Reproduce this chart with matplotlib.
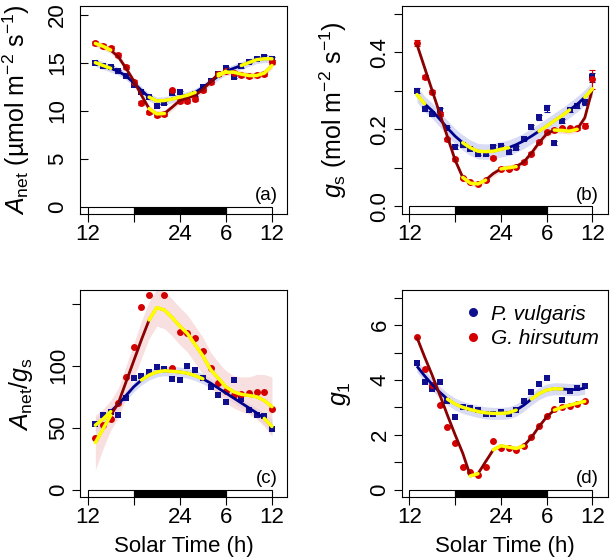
import numpy as np
import matplotlib
matplotlib.use("Agg")
import matplotlib.pyplot as plt
from matplotlib.patches import Rectangle
from matplotlib.lines import Line2D

plt.rcParams['font.family'] = ['Liberation Sans', 'DejaVu Sans']
plt.rcParams['mathtext.fontset'] = 'custom'
plt.rcParams['mathtext.rm'] = 'Liberation Sans'
plt.rcParams['mathtext.it'] = 'Liberation Sans:italic'
plt.rcParams['mathtext.bf'] = 'Liberation Sans:bold'

nan = np.nan
# ---------------- data ----------------
hours = np.arange(13, 37)  # solar time (h), 25..36 = 1..12 next day

# (a) Anet
a_pv = [15.0, 14.6, 14.5, 14.1, 13.6, 12.7, 11.9, 11.4, 10.5, 10.8, 11.8, 11.9,
        11.4, 11.7, 12.5, 13.1, 13.8, 14.4, 13.5, 14.6, 15.1, 15.4, 15.6, 15.4]
a_gh = [17.0, 16.7, 16.5, 15.8, 14.5, 13.0, 10.8, 9.8, 9.5, 9.65, 12.1, 11.0,
        11.0, 11.2, 12.1, 13.0, 13.8, 14.1, 13.9, 13.7, 13.6, 13.7, 13.8, 15.1]
a_pv_err = [0.15] * 24
a_gh_err = [0.2] * 24
a_pv_fit = [15.0, 14.7, 14.4, 14.1, 13.6, 12.9, 12.1, 11.4, 11.0, 11.05, 11.2, 11.4,
            11.6, 11.9, 12.4, 13.0, 13.6, 14.1, 14.4, 14.7, 15.0, 15.3, 15.4, 15.4]
a_gh_fit = [17.0, 16.7, 16.3, 15.6, 14.4, 13.1, 11.6, 10.2, 9.65, 9.7, 10.35, 11.05,
            11.3, 11.6, 12.2, 13.0, 13.8, 14.0, 14.0, 13.8, 13.65, 13.65, 13.9, 14.7]
a_pv_band = [0.4] * 24
a_gh_band = [0.35] * 24
a_pv_flat = [(13, 15), (20, 26), (29, 30), (32, 36)]
a_gh_flat = [(13, 15), (20, 22), (29, 36)]

# (b) gs
b_pv = [0.300, 0.252, 0.239, 0.250, 0.202, 0.154, 0.158, 0.150, 0.137, 0.137, 0.154, 0.156,
        0.141, 0.152, 0.176, 0.205, 0.231, 0.254, 0.164, 0.222, 0.250, 0.261, 0.270, 0.335]
b_gh = [0.424, 0.335, 0.296, 0.239, 0.174, 0.122, 0.074, 0.063, 0.057, 0.068, 0.126, 0.098,
        0.098, 0.103, 0.115, 0.137, 0.168, 0.192, 0.198, 0.202, 0.202, 0.202, 0.209, 0.330]
b_pv_err = [0.006, 0.005, 0.005, 0.005, 0.004, 0.004, 0.004, 0.004, 0.004, 0.004, 0.004, 0.004,
            0.004, 0.004, 0.005, 0.005, 0.006, 0.010, 0.005, 0.005, 0.005, 0.006, 0.006, 0.012]
b_gh_err = [0.007, 0.005, 0.005, 0.005, 0.004, 0.004, 0.003, 0.003, 0.003, 0.003, 0.004, 0.003,
            0.003, 0.003, 0.004, 0.004, 0.004, 0.004, 0.004, 0.004, 0.004, 0.004, 0.007, 0.025]
b_pv_fit = [0.290, 0.266, 0.248, 0.226, 0.203, 0.182, 0.165, 0.152, 0.143, 0.142, 0.143, 0.148,
            0.152, 0.160, 0.170, 0.182, 0.195, 0.208, 0.222, 0.235, 0.250, 0.265, 0.283, 0.305]
b_gh_fit = [0.420, 0.360, 0.300, 0.240, 0.180, 0.120, 0.075, 0.060, 0.058, 0.068, 0.085, 0.097,
            0.100, 0.103, 0.115, 0.138, 0.165, 0.188, 0.198, 0.197, 0.195, 0.200, 0.230, 0.305]
b_pv_band = [0.02] * 24
b_gh_band = [0.008] * 24
b_pv_flat = [(13, 14), (19, 25), (29, 33), (35, 36)]
b_gh_flat = [(19, 22), (24, 26), (31, 34)]

# (c) Anet/gs
c_pv = [53.2, 60.0, 62.7, 60.0, 73.8, 90.5, 91.4, 95.2, 98.7, 97.3, 89.2, 88.4,
        99.5, 96.5, 90.0, 83.0, 76.8, 71.1, 88.4, 73.0, 64.3, 60.3, 59.5, 49.2]
c_gh = [41.4, 52.2, 57.3, 70.3, 90.6, 114.9, 147.3, 156.8, nan, 156.8, 98.2, 127.1,
        126.2, 122.2, 112.2, 98.2, 86.5, 79.8, 76.3, 77.1, 78.4, 79.2, 79.2, 65.4]
c_pv_fit = [52, 57, 63, 69, 76, 83, 88.5, 92.5, 95, 96, 95.5, 95,
            94, 92, 89.5, 86, 82, 78, 74, 70, 66, 62, 57.5, 51]
c_gh_fit = [38, 49, 60, 70, 87, 104, 121, 137, 147, 145, 139, 132,
            126, 117, 108, 97, 90, 83, 79, 77, 76, 75, 72, 67]
c_pv_band = [6, 5, 4, 4, 4, 4, 4, 4, 4, 4, 4, 4, 4, 4, 4, 4, 4, 4, 4, 4, 4, 4, 5, 6]
c_gh_band = [22, 16, 12, 12, 13, 14, 15, 15, 15, 15, 15, 15,
             15, 15, 15, 14, 13, 13, 13, 14, 15, 18, 21, 24]
c_pv_flat = [(13, 15), (19, 27), (35, 36)]
c_gh_flat = [(13, 15), (20, 36)]

# (d) g1
d_pv = [4.63, 3.93, 3.68, 3.92, 3.25, 2.65, 3.01, 2.97, 2.89, 2.77, 2.77, 2.83,
        2.77, 2.89, 3.22, 3.55, 3.86, 4.07, nan, 3.28, 3.61, 3.70, 3.77, nan]
d_gh = [5.55, 4.39, 3.83, 3.10, 2.30, 1.69, 0.83, 0.65, 0.53, 0.81, 1.79, 1.51,
        1.51, 1.45, 1.59, 1.91, 2.33, 2.67, 2.94, 3.01, 3.06, 3.13, 3.22, nan]
d_pv_fit = [4.5, 4.15, 3.83, 3.55, 3.3, 3.12, 3.0, 2.92, 2.85, 2.8, 2.78, 2.78,
            2.8, 2.9, 3.08, 3.3, 3.5, 3.63, 3.68, 3.67, 3.65, 3.65, 3.7, nan]
d_gh_fit = [5.55, 4.84, 4.17, 3.45, 2.71, 2.0, 1.33, 0.5, 0.58, 1.02, 1.45, 1.6,
            1.55, 1.5, 1.6, 1.9, 2.3, 2.65, 2.9, 3.0, 3.08, 3.15, 3.22, nan]
d_pv_band = [0.22] * 24
d_gh_band = [0.0] * 24
d_pv_flat = [(17, 26), (28, 32)]
d_gh_flat = [(20, 21), (23, 27), (31, 35)]

# light / dark periods
light_periods = [(12, 18), (30, 36)]
dark_periods = [(18, 30)]

xticks = [12, 18, 24, 30, 36]
xticklabels = ['12', '', '24', '6', '12']
species = ['P. vulgaris', 'G. hirsutum']

# ---------------- style ----------------
C_PV = '#10108f'
C_GH = '#d40000'
L_PV = '#00008b'
L_GH = '#8b0000'
YEL = '#ffff00'
BAND_PV = '#c9cdf2'
BAND_GH = '#f7d3d3'

fig = plt.figure(figsize=(6.15, 5.59), dpi=100)
W, H = 615.0, 559.0

def mk(left, top, right, bottom):
    return fig.add_axes([left / W, (H - bottom) / H, (right - left) / W, (bottom - top) / H])

ax_a = mk(80, 6, 287.3, 214)
ax_b = mk(401.7, 6, 607.7, 214)
ax_c = mk(80, 290, 287.3, 497.3)
ax_d = mk(401.7, 290, 607.7, 497.3)


def panel(ax, pv, gh, pv_fit, gh_fit, pv_band, gh_band, pv_flat, gh_flat,
          ylim, yticks, yticklabels, ylabel, ylabel_x, letter, pv_err=None, gh_err=None,
          inward=False):
    pv = np.array(pv, float); gh = np.array(gh, float)
    pvf = np.array(pv_fit, float); ghf = np.array(gh_fit, float)
    pvb = np.array(pv_band, float); ghb = np.array(gh_band, float)
    ax.set_xlim(11, 38)
    ax.set_ylim(*ylim)
    # bands
    ax.fill_between(hours, pvf - pvb, pvf + pvb, color=BAND_PV, alpha=0.7, lw=0, zorder=1)
    if np.nanmax(ghb) > 0:
        ax.fill_between(hours, ghf - ghb, ghf + ghb, color=BAND_GH, alpha=0.7, lw=0, zorder=1)
    # error bars
    if pv_err is not None:
        ax.errorbar(hours, pv, yerr=pv_err, fmt='none', ecolor=C_PV, elinewidth=0.8,
                    capsize=2, capthick=0.8, zorder=2)
    if gh_err is not None:
        ax.errorbar(hours, gh, yerr=gh_err, fmt='none', ecolor=C_GH, elinewidth=0.8,
                    capsize=2, capthick=0.8, zorder=2)
    # points
    ax.plot(hours, pv, 's', color=C_PV, ms=4.6, mew=0, zorder=3, clip_on=True)
    ax.plot(hours, gh, 'o', color=C_GH, ms=5.0, mew=0, zorder=3, clip_on=True)
    # fits
    ax.plot(hours, pvf, '-', color=L_PV, lw=2.0, zorder=4, solid_capstyle='butt')
    ax.plot(hours, ghf, '-', color=L_GH, lw=2.0, zorder=4, solid_capstyle='butt')
    for fit, flat in ((pvf, pv_flat), (ghf, gh_flat)):
        for s, e in flat:
            m = (hours >= s) & (hours <= e)
            ax.plot(hours[m], fit[m], '-', color=YEL, lw=2.5, zorder=5,
                    solid_capstyle='round')
    # light/dark bar
    y0 = ylim[0]
    for s, e in light_periods:
        ax.add_patch(Rectangle((s, y0), e - s, 0 - y0, facecolor='white',
                               edgecolor='black', lw=0.8, zorder=6))
    for s, e in dark_periods:
        ax.add_patch(Rectangle((s, y0), e - s, 0 - y0, facecolor='black',
                               edgecolor='black', lw=0.8, zorder=6))
    ax.set_xticks(xticks)
    ax.set_xticklabels(xticklabels, fontsize=16)
    ax.set_yticks(yticks)
    ax.set_yticklabels(yticklabels, fontsize=16, rotation=90, va='center')
    ax.tick_params(axis='x', length=5.5, width=0.8, pad=1.5)
    ax.tick_params(axis='y', length=5.5, width=0.8, pad=8.5 if inward else 2.5,
                   direction='in' if inward else 'out')
    ax.set_ylabel(ylabel, fontsize=18, va='center')
    ax.yaxis.set_label_coords(ylabel_x, 0.5)
    for sp in ax.spines.values():
        sp.set_linewidth(0.8)
    ax.text(0.955, 0.05, letter, transform=ax.transAxes, ha='right', va='bottom',
            fontsize=13.5, zorder=7)


panel(ax_a, a_pv, a_gh, a_pv_fit, a_gh_fit, a_pv_band, a_gh_band, a_pv_flat, a_gh_flat,
      (-0.78, 20.9), [0, 5, 10, 15, 20], ['0', '5', '10', '15', '20'],
      r'$A_{\rm net}$ (µmol m$^{-2}$ s$^{-1}$)', -0.305, '(a)', a_pv_err, a_gh_err, inward=True)
panel(ax_b, b_pv, b_gh, b_pv_fit, b_gh_fit, b_pv_band, b_gh_band, b_pv_flat, b_gh_flat,
      (-0.02, 0.52), [0, 0.1, 0.2, 0.3, 0.4, 0.5], ['0.0', '', '0.2', '', '0.4', ''],
      r'$g_{\rm s}$ (mol m$^{-2}$ s$^{-1}$)', -0.33, '(b)', b_pv_err, b_gh_err)
panel(ax_c, c_pv, c_gh, c_pv_fit, c_gh_fit, c_pv_band, c_gh_band, c_pv_flat, c_gh_flat,
      (-6.2, 161.2), [0, 50, 100, 150], ['0', '50', '100', ''],
      r'$A_{\rm net}/g_{\rm s}$', -0.285, '(c)')
panel(ax_d, d_pv, d_gh, d_pv_fit, d_gh_fit, d_pv_band, d_gh_band, d_pv_flat, d_gh_flat,
      (-0.28, 7.28), list(range(8)), ['0', '', '2', '', '4', '', '6', ''],
      r'$g_1$', -0.295, '(d)')

for ax in (ax_c, ax_d):
    ax.set_xlabel('Solar Time (h)', fontsize=16, labelpad=6)

handles = [Line2D([], [], ls='none', marker='o', color=C_PV, ms=6.5, mew=0),
           Line2D([], [], ls='none', marker='o', color=C_GH, ms=6.5, mew=0)]
ax_d.legend(handles, species, loc='upper right', bbox_to_anchor=(1.03, 1.0),
            frameon=False, prop={'style': 'italic', 'size': 15},
            handlelength=0.8, handletextpad=0.5, labelspacing=0.25, borderaxespad=0.3)

fig.savefig('out.png', dpi=100)
